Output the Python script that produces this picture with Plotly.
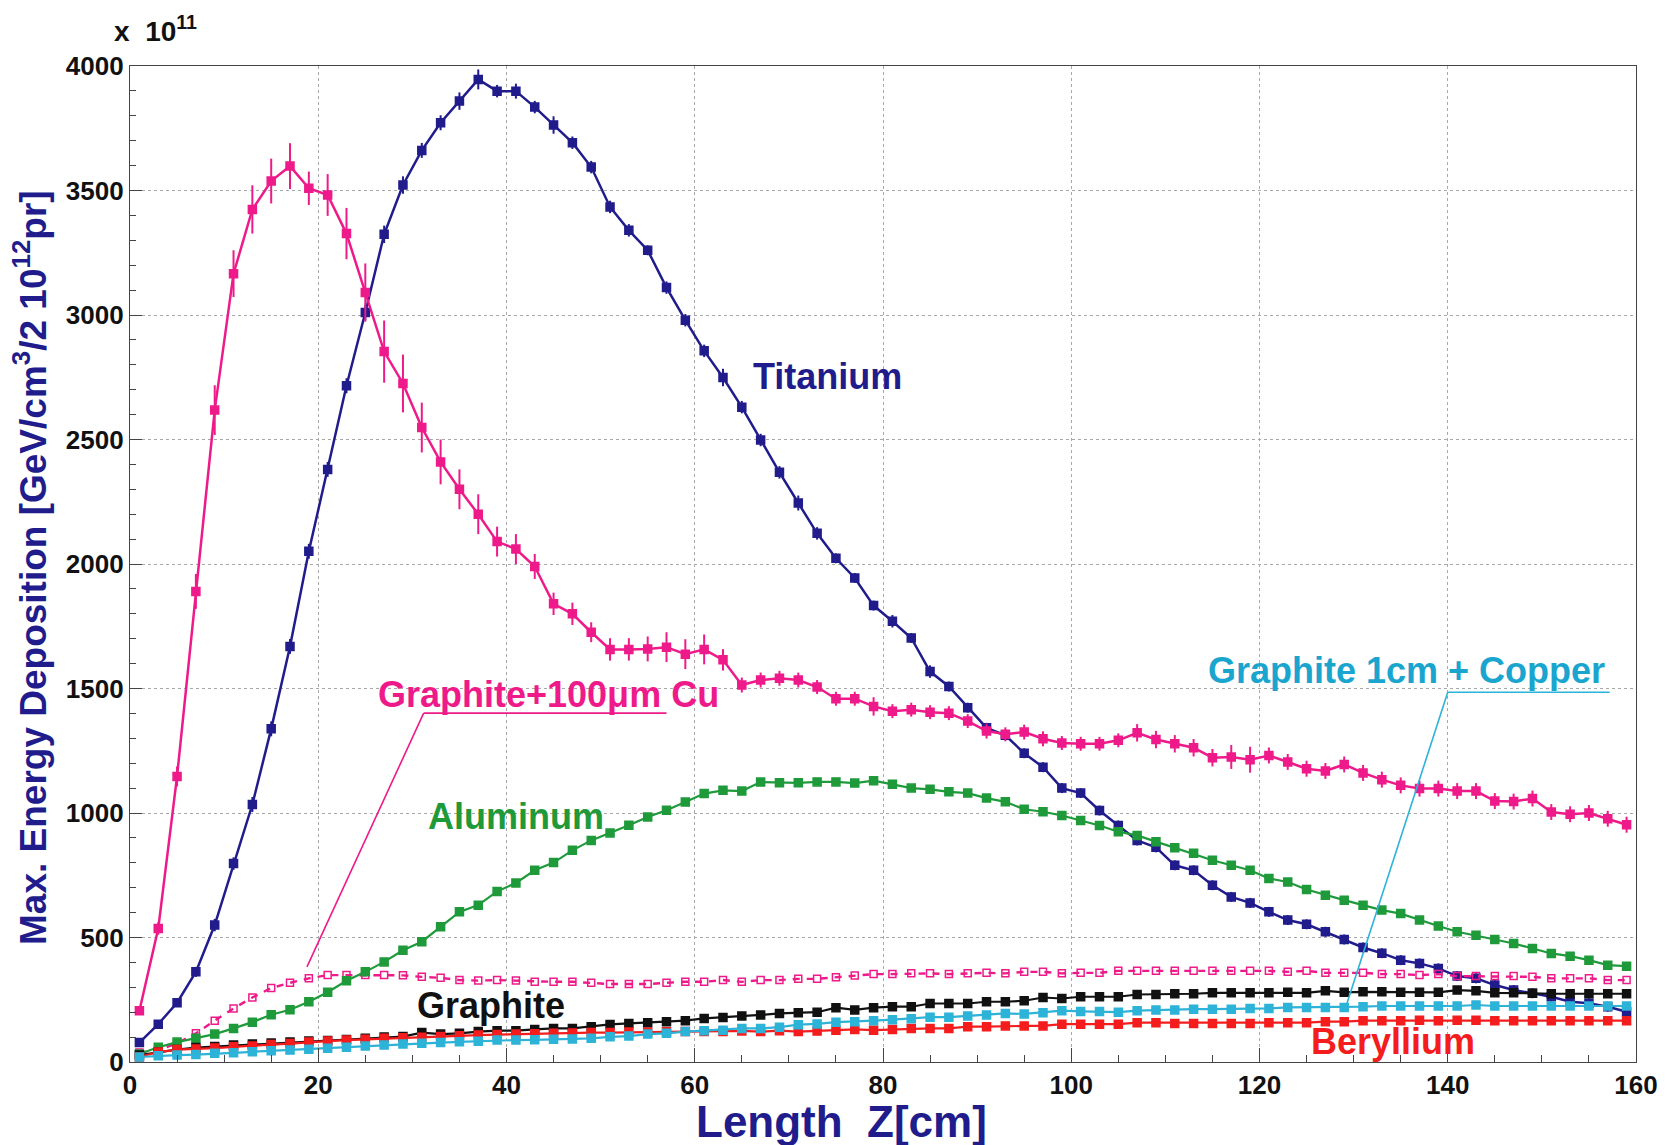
import plotly.graph_objects as go

# Bin centres along the target (cm)
z = list(range(1, 160, 2))

titanium = [78, 152, 238, 362, 550, 797, 1034, 1338, 1669, 2051,
            2380, 2716, 3010, 3324, 3522, 3661, 3772, 3859, 3946, 3899,
            3899, 3835, 3763, 3692, 3594, 3434, 3340, 3260, 3110, 2979,
            2856, 2749, 2630, 2498, 2368, 2245, 2123, 2023, 1944, 1833,
            1770, 1703, 1568, 1508, 1423, 1342, 1312, 1240, 1184, 1100,
            1080, 1010, 950, 890, 862, 790, 770, 710, 663, 639,
            603, 570, 553, 523, 492, 460, 437, 409, 396, 376,
            345, 336, 309, 289, 276, 262, 242, 236, 222, 202]
titanium_err = [10, 15, 15, 20, 25, 25, 30, 30, 30, 30,
                30, 30, 30, 35, 35, 30, 30, 35, 40, 25,
                30, 25, 35, 25, 25, 25, 25, 20, 25, 25,
                25, 35, 25, 25, 25, 30, 25, 20, 20, 20,
                25, 20, 25, 20, 20, 20, 20, 20, 20, 20,
                20, 20, 20, 20, 20, 20, 20, 20, 20, 20,
                20, 20, 20, 20, 20, 20, 20, 20, 20, 20,
                20, 20, 20, 20, 20, 20, 20, 20, 20, 20]

graphite_cu100 = [206, 536, 1147, 1890, 2618, 3166, 3424, 3538, 3598, 3509,
                  3482, 3327, 3090, 2853, 2725, 2548, 2410, 2300, 2200, 2090,
                  2060, 1990, 1840, 1800, 1726, 1657, 1657, 1659, 1666, 1638,
                  1657, 1615, 1514, 1534, 1541, 1534, 1506, 1459, 1459, 1428,
                  1409, 1415, 1405, 1401, 1369, 1329, 1316, 1325, 1298, 1281,
                  1278, 1278, 1292, 1322, 1295, 1278, 1262, 1222, 1225, 1214,
                  1231, 1205, 1178, 1169, 1195, 1161, 1134, 1111, 1098, 1098,
                  1088, 1088, 1048, 1046, 1058, 1004, 995, 1000, 977, 953]
graphite_cu100_err = [10, 25, 40, 70, 100, 94, 97, 90, 92, 67,
                      84, 103, 117, 125, 116, 100, 90, 80, 80, 60,
                      60, 50, 45, 45, 40, 45, 45, 50, 60, 60,
                      60, 43, 30, 30, 30, 30, 28, 28, 28, 37,
                      28, 28, 28, 28, 28, 30, 28, 30, 30, 28,
                      28, 28, 28, 35, 35, 35, 35, 35, 48, 52,
                      32, 32, 32, 32, 32, 32, 32, 32, 32, 32,
                      32, 32, 32, 32, 32, 32, 32, 32, 32, 32]

graphite_cu_open = [38, 48, 75, 115, 166, 215, 259, 297, 318, 336,
                    349, 349, 349, 349, 348, 342, 338, 329, 327, 329,
                    327, 322, 322, 322, 318, 313, 313, 313, 318, 322,
                    322, 329, 322, 329, 329, 334, 334, 340, 347, 353,
                    353, 356, 356, 353, 356, 358, 356, 362, 362, 356,
                    358, 358, 366, 366, 366, 366, 366, 366, 366, 366,
                    366, 362, 366, 358, 358, 358, 353, 353, 349, 353,
                    345, 345, 345, 345, 342, 336, 336, 336, 329, 329]

aluminum = [32, 59, 80, 95, 112, 135, 160, 190, 210, 242,
            280, 326, 362, 402, 449, 483, 543, 603, 630, 685,
            719, 770, 801, 850, 890, 920, 951, 984, 1011, 1044,
            1078, 1091, 1088, 1124, 1121, 1121, 1125, 1125, 1120, 1130,
            1115, 1100, 1095, 1085, 1080, 1060, 1045, 1015, 1005, 990,
            970, 950, 925, 910, 885, 860, 838, 810, 790, 770,
            737, 723, 693, 670, 650, 630, 610, 596, 570, 546,
            523, 509, 492, 476, 456, 436, 425, 409, 389, 385]

graphite = [28, 40, 50, 58, 62, 68, 72, 76, 80, 84,
            86, 90, 95, 100, 102, 118, 112, 115, 122, 126,
            126, 131, 135, 135, 142, 151, 155, 158, 162, 166,
            175, 179, 185, 189, 195, 198, 200, 218, 209, 218,
            222, 222, 235, 235, 235, 242, 242, 246, 259, 255,
            262, 262, 262, 271, 271, 274, 274, 278, 278, 278,
            278, 280, 278, 286, 280, 282, 282, 280, 280, 280,
            289, 286, 278, 278, 276, 274, 274, 274, 274, 274]

graphite_1cm_cu = [20, 25, 28, 30, 35, 37, 41, 45, 48, 51,
                   55, 59, 64, 68, 72, 75, 78, 81, 83, 88,
                   88, 89, 91, 92, 95, 101, 104, 112, 115, 122,
                   126, 128, 135, 135, 140, 150, 153, 160, 162, 166,
                   170, 174, 180, 180, 185, 189, 195, 193, 198, 206,
                   203, 203, 200, 206, 209, 209, 212, 212, 212, 215,
                   215, 219, 219, 219, 219, 222, 225, 225, 225, 225,
                   225, 229, 225, 225, 225, 225, 225, 225, 225, 225]

beryllium = [20, 40, 50, 52, 56, 61, 64, 70, 74, 80,
             84, 88, 91, 95, 97, 99, 102, 105, 108, 110,
             112, 113, 115, 116, 118, 118, 120, 120, 121, 122,
             122, 122, 125, 122, 126, 122, 124, 128, 131, 128,
             131, 135, 135, 135, 142, 142, 145, 145, 145, 152,
             152, 152, 152, 158, 158, 155, 155, 155, 155, 155,
             158, 158, 158, 162, 162, 166, 166, 166, 168, 166,
             168, 168, 166, 166, 166, 166, 166, 166, 166, 166]

NAVY = "#211c8c"
PINK = "#ee1a8a"
GREEN = "#1f9a3a"
CYAN = "#2db3d8"
RED = "#f41c1c"
BLACK = "#111111"

FONT = "Liberation Sans"

fig = go.Figure()


def add_series(y, color, err=None, symbol="square", dash="solid", width=2.2, size=8):
    kw = {}
    if err is not None:
        kw["error_y"] = dict(type="data", array=err, visible=True, width=0,
                             thickness=2, color=color)
    fig.add_trace(go.Scatter(
        x=z, y=y, mode="lines+markers",
        line=dict(color=color, width=width, dash=dash),
        marker=dict(symbol=symbol, size=size, color=color,
                    line=dict(color=color, width=1.5)),
        showlegend=False, cliponaxis=False, **kw))


add_series(titanium, NAVY, err=titanium_err, width=2.5)
add_series(graphite_cu_open, PINK, symbol="square-open", dash="7px,7px", width=2.4, size=7)
add_series(aluminum, GREEN)
add_series(graphite, BLACK)
add_series(beryllium, RED)
add_series(graphite_1cm_cu, CYAN)
add_series(graphite_cu100, PINK, err=graphite_cu100_err, width=2.5)

# Leader lines pointing from labels to their curves
leaders = [
    # (x0, y0, x1, y1, color)
    (18.8, 382, 31.2, 1401, PINK),
    (31.2, 1401, 57.0, 1401, PINK),
    (129.2, 225, 140.0, 1485, CYAN),
    (140.0, 1485, 157.2, 1485, CYAN),
]
for x0, y0, x1, y1, c in leaders:
    fig.add_shape(type="line", x0=x0, y0=y0, x1=x1, y1=y1, xref="x", yref="y",
                  line=dict(color=c, width=1.6))

labels = [
    ("Titanium", 66.0, 2754, NAVY),
    ("Graphite+100μm Cu", 26.1, 1475, PINK),
    ("Aluminum", 31.4, 985, GREEN),
    ("Graphite", 30.3, 225, BLACK),
    ("Beryllium", 125.3, 81, RED),
    ("Graphite 1cm + Copper", 114.3, 1572, "#1aa5cf"),
]
for text, x, y, c in labels:
    fig.add_annotation(x=x, y=y, xref="x", yref="y", text=text, showarrow=False,
                       xanchor="left", yanchor="middle",
                       font=dict(family=FONT, size=36, color=c, weight="bold"))

# Exponent of the y scale
fig.add_annotation(x=-0.012, y=1.037, xref="paper", yref="paper",
                   text="x  10<sup>11</sup>", showarrow=False,
                   xanchor="left", yanchor="middle",
                   font=dict(family=FONT, size=28, color=BLACK, weight="bold"))

# Axis titles
fig.add_annotation(x=0.4725, y=0, xref="paper", yref="paper",
                   text="Length  Z[cm]", showarrow=False,
                   xanchor="center", yanchor="middle", yshift=-59,
                   font=dict(family=FONT, size=44, color=NAVY, weight="bold"))
fig.add_annotation(x=0, y=0.5, xref="paper", yref="paper",
                   text="Max. Energy Deposition [GeV/cm<sup>3</sup>/2 10<sup>12</sup>pr]",
                   showarrow=False, textangle=-90,
                   xanchor="center", yanchor="middle", xshift=-100, yshift=-4,
                   font=dict(family=FONT, size=37, color=NAVY, weight="bold"))

axis_common = dict(
    showline=True, linecolor="#444444", linewidth=1.2, mirror=True,
    showgrid=True, gridcolor="#a8a8a8", griddash="dot", gridwidth=1,
    zeroline=False, ticks="inside", tickcolor="#444444",
    tickfont=dict(family=FONT, size=26, color=BLACK, weight="bold"),
)

fig.update_xaxes(range=[0, 160], dtick=20, tick0=0, ticklen=14,
                 minor=dict(dtick=5, ticks="inside", ticklen=7, tickcolor="#444444",
                            showgrid=False),
                 **axis_common)
fig.update_yaxes(range=[0, 4000], dtick=500, tick0=0, ticklen=12,
                 minor=dict(dtick=100, ticks="inside", ticklen=6, tickcolor="#444444",
                            showgrid=False),
                 **axis_common)

fig.update_layout(
    width=1668, height=1145,
    margin=dict(l=130, r=32, t=66, b=83, autoexpand=False),
    plot_bgcolor="white", paper_bgcolor="white",
    font=dict(family=FONT),
)

fig.write_html("out.html")
